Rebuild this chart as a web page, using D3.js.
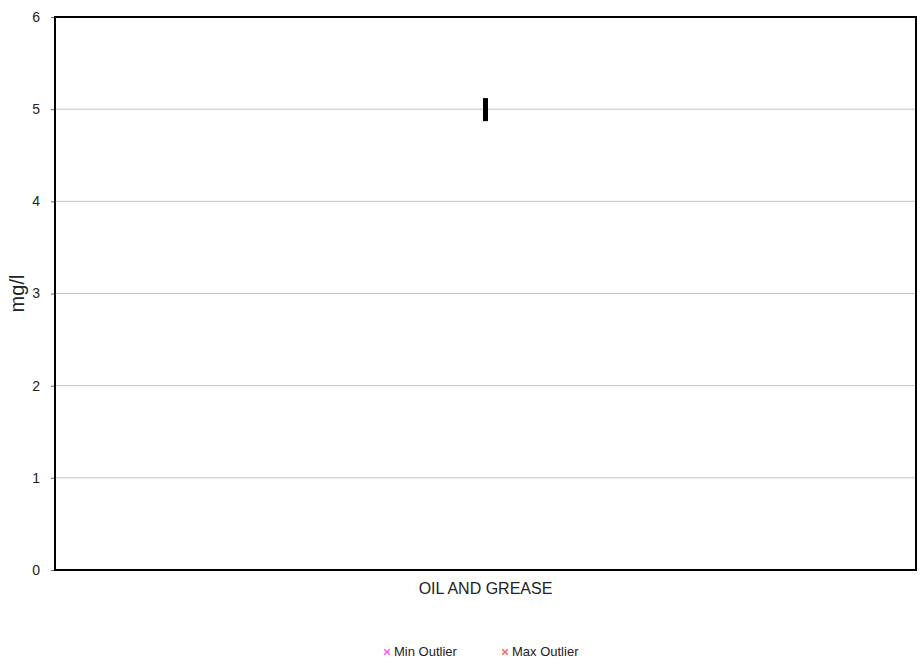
<!DOCTYPE html>
<html><head><meta charset="utf-8">
<script src="https://cdn.jsdelivr.net/npm/d3@7"></script>
<style>body{margin:0;background:#fff}svg{display:block}text{font-family:"Liberation Sans",Arial,sans-serif;fill:#222}</style>
</head><body>
<script>
const categories = ["OIL AND GREASE"];
const boxLow = [4.87];
const boxHigh = [5.12];
const yTicks = [0,1,2,3,4,5,6];
const legendItems = ["Min Outlier","Max Outlier"];
const legendColors = ["#ff55ff","#ff5f5f"];

const W=921,H=664,m={l:55,r:5,t:17,b:94};
const svg=d3.select("body").append("svg").attr("width",W).attr("height",H);
const x=d3.scaleBand().domain(categories).range([m.l,W-m.r]);
const y=d3.scaleLinear().domain([0,6]).range([H-m.b,m.t]);

svg.append("g").selectAll("line").data(yTicks.filter(d=>d>0&&d<6)).join("line")
 .attr("x1",m.l).attr("x2",W-m.r).attr("y1",d=>y(d)).attr("y2",d=>y(d))
 .attr("stroke","#c4c4c4").attr("stroke-width",1);

const ya=svg.append("g").attr("transform",`translate(${m.l},0)`)
 .call(d3.axisLeft(y).tickValues(yTicks).tickFormat(d3.format("d")).tickSize(4).tickPadding(11));
ya.select(".domain").remove();
ya.selectAll("line").attr("stroke","#666");
ya.selectAll("text").style("font-size","14px").style("font-family","Liberation Sans, Arial, sans-serif").attr("fill","#222");

svg.append("rect").attr("x",m.l).attr("y",m.t).attr("width",W-m.r-m.l).attr("height",H-m.b-m.t)
 .attr("fill","none").attr("stroke","#000").attr("stroke-width",2);

svg.append("g").selectAll("rect").data(categories).join("rect")
 .attr("x",d=>x(d)+x.bandwidth()/2-2.5).attr("width",5)
 .attr("y",(d,i)=>y(boxHigh[i])).attr("height",(d,i)=>y(boxLow[i])-y(boxHigh[i]))
 .attr("fill","#000");

svg.append("g").selectAll("text").data(categories).join("text")
 .attr("x",d=>x(d)+x.bandwidth()/2).attr("y",594).attr("text-anchor","middle")
 .style("font-size","16px").text(d=>d);

svg.append("text").attr("transform",`translate(24,${y(3)}) rotate(-90)`)
 .attr("text-anchor","middle").style("font-size","20px").text("mg/l");

const lg=svg.append("g").selectAll("g").data(legendItems).join("g")
 .attr("transform",(d,i)=>`translate(${387+i*118},652)`);
lg.append("path").attr("d",d3.symbol(d3.symbolX,22)())
 .attr("fill","none").attr("stroke",(d,i)=>legendColors[i]).attr("stroke-width",1.5);
lg.append("text").attr("x",7).attr("y",4).style("font-size","13px").text(d=>d);
</script>
</body></html>
